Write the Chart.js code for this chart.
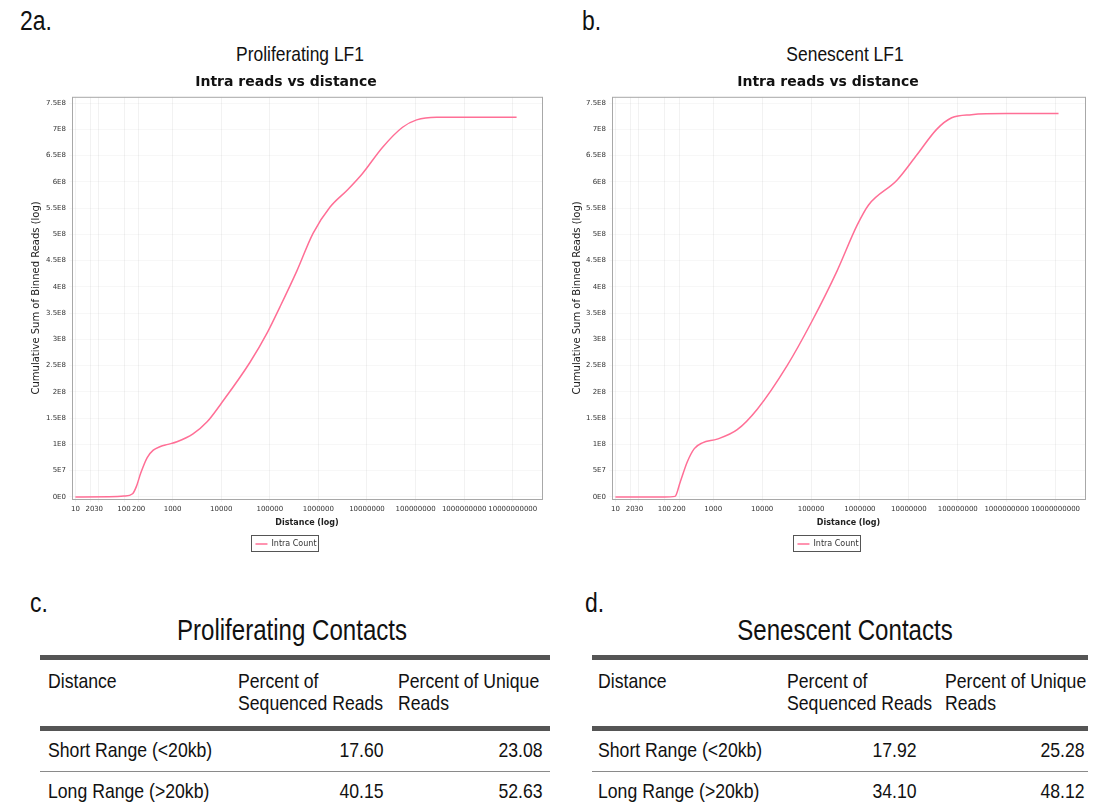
<!DOCTYPE html>
<html>
<head>
<meta charset="utf-8">
<script src="https://cdn.jsdelivr.net/npm/chart.js@4.4.0/dist/chart.umd.min.js"></script>
<style>
  body { margin: 0; background: #fff; width: 1097px; height: 810px; position: relative; overflow: hidden;
         font-family: 'Liberation Sans', Arial, sans-serif; color: #111; }
  .abs { position: absolute; white-space: nowrap; }
  .panel { font-size: 27px; transform: scaleX(0.85); transform-origin: 0 0; }
  .sup { font-size: 21px; transform: translateX(-50%) scaleX(0.83); }
  .ttl { font-size: 29px; transform: translateX(-50%) scaleX(0.83); }
  canvas { position: absolute; }
  table { position: absolute; border-collapse: collapse; font-size: 21px; table-layout: fixed; }
  th, td { white-space: nowrap; padding: 0; overflow: visible; }
  th { font-weight: normal; text-align: left; vertical-align: top; line-height: 22px; height: 44px; padding-top: 10px; padding-bottom: 12px; }
  thead tr { border-top: 5px solid #555; border-bottom: 5px solid #555; }
  td { height: 37px; vertical-align: middle; padding-bottom: 3px; }
  tbody tr { border-bottom: 1.5px solid #8a8a8a; }
  td.num { text-align: right; }
  .n { display: inline-block; transform: scaleX(0.84); transform-origin: 0 0; }
  td.num .n { transform-origin: 100% 0; }
</style>
</head>
<body>
<div class="abs panel" style="left:20px;top:6px;">2a.</div>
<div class="abs panel" style="left:582px;top:6px;">b.</div>
<div class="abs sup" style="left:300px;top:42px;">Proliferating LF1</div>
<div class="abs sup" style="left:845px;top:42px;">Senescent LF1</div>
<canvas id="chartA" width="560" height="504" style="left:0;top:60px;"></canvas>
<canvas id="chartB" width="557" height="504" style="left:540px;top:60px;"></canvas>

<div class="abs panel" style="left:30px;top:588px;">c.</div>
<div class="abs panel" style="left:585px;top:588px;">d.</div>
<div class="abs ttl" style="left:292px;top:614px;">Proliferating Contacts</div>
<div class="abs ttl" style="left:845px;top:614px;">Senescent Contacts</div>
<table id="tableA" style="left:40px;top:655px;width:510px;"></table>
<table id="tableB" style="left:592px;top:655px;width:496px;"></table>

<script>
// x axis ticks (distance, log) and y ticks
var xTicks = [10, 20, 30, 100, 200, 1e3, 1e4, 1e5, 1e6, 1e7, 1e8, 1e9, 1e10];
var yTicks = [0, 5e7, 1e8, 1.5e8, 2e8, 2.5e8, 3e8, 3.5e8, 4e8, 4.5e8, 5e8, 5.5e8, 6e8, 6.5e8, 7e8, 7.5e8];

// Proliferating LF1 - cumulative intra reads
var proDist  = [10, 50, 100, 150, 180, 220, 300, 400, 560, 800, 1230, 2630, 5130, 10000, 38900, 90000, 162000, 363000, 776000, 1.74e6, 4e6, 8.1e6, 2.1e7, 5.4e7, 1.05e8, 2.7e8, 1e9, 1.2e10];
var proReads = [0, 0.3e6, 1.5e6, 6e6, 2e7, 4.5e7, 7.5e7, 8.9e7, 9.6e7, 1.0e8, 1.05e8, 1.2e8, 1.43e8, 1.78e8, 2.56e8, 3.14e8, 3.62e8, 4.31e8, 5.02e8, 5.52e8, 5.85e8, 6.16e8, 6.66e8, 7.04e8, 7.18e8, 7.23e8, 7.23e8, 7.23e8];

// Senescent LF1 - cumulative intra reads
var senDist  = [10, 100, 165, 212, 295, 410, 600, 1200, 3090, 7940, 32400, 105000, 339000, 871000, 1.5e6, 5.7e6, 1.45e7, 3.7e7, 7.5e7, 1.9e8, 1e9, 1.15e10];
var senReads = [0, 0, 1e6, 2.9e7, 6.7e7, 9.2e7, 1.03e8, 1.1e8, 1.28e8, 1.67e8, 2.5e8, 3.35e8, 4.3e8, 5.17e8, 5.56e8, 6.03e8, 6.51e8, 7.0e8, 7.22e8, 7.28e8, 7.3e8, 7.3e8];

// contact tables
var tableHeader = ['Distance', 'Percent of<br>Sequenced Reads', 'Percent of Unique<br>Reads'];
var rangeLabels = ['Short Range (&lt;20kb)', 'Long Range (&gt;20kb)'];
var proSeqPct = ['17.60', '40.15'];
var proUniqPct = ['23.08', '52.63'];
var senSeqPct = ['17.92', '34.10'];
var senUniqPct = ['25.28', '48.12'];

function fmtE(v) {
    if (v === 0) return '0E0';
    var e = Math.floor(Math.log10(v) + 1e-9);
    var m = Math.round(v / Math.pow(10, e) * 10) / 10;
    return m + 'E' + e;
}

var frame = {
    id: 'frame',
    afterDraw: function (chart) {
        var ctx = chart.ctx, a = chart.chartArea;
        ctx.save();
        ctx.strokeStyle = '#a8a8a8';
        ctx.lineWidth = 1;
        ctx.strokeRect(a.left + 0.5, a.top + 0.5, a.right - a.left, a.bottom - a.top);
        var hb = chart.legend.legendHitBoxes[0];
        if (hb) {
            ctx.strokeStyle = '#555';
            ctx.strokeRect(Math.round(hb.left) - 3.5, Math.round(hb.top) - 4.5, Math.round(hb.width) + 6, Math.round(hb.height) + 8);
        }
        ctx.restore();
    }
};

function makeChart(id, dist, reads, pad, axisW) {
    var pts = dist.map(function (d, i) { return {x: d, y: reads[i]}; });
    return new Chart(document.getElementById(id), {
        type: 'line',
        data: {
            datasets: [{
                label: 'Intra Count',
                data: pts,
                borderColor: '#ff6f96',
                backgroundColor: '#ff6f96',
                borderWidth: 1.5,
                pointRadius: 0,
                cubicInterpolationMode: 'monotone'
            }]
        },
        options: {
            responsive: false,
            animation: false,
            layout: {padding: pad},
            plugins: {
                title: {
                    display: true,
                    text: 'Intra reads vs distance',
                    color: '#111',
                    font: {family: 'DejaVu Sans', size: 14, weight: 'bold'},
                    padding: {top: 14, bottom: 6}
                },
                legend: {
                    position: 'bottom',
                    labels: {
                        usePointStyle: true,
                        pointStyle: 'line',
                        pointStyleWidth: 12,
                        color: '#333',
                        font: {family: 'DejaVu Sans', size: 8},
                        padding: 10
                    }
                },
                tooltip: {enabled: false}
            },
            scales: {
                x: {
                    type: 'logarithmic',
                    min: 8.5,
                    max: 4e10,
                    afterBuildTicks: function (s) { s.ticks = xTicks.map(function (v) { return {value: v}; }); },
                    ticks: {
                        autoSkip: false, maxRotation: 0, color: '#333', padding: 3,
                        font: {family: 'DejaVu Sans', size: 7},
                        callback: function (v) { return String(v); }
                    },
                    grid: {color: 'rgba(0,0,0,0.05)', tickLength: 3},
                    border: {display: false},
                    title: {display: true, text: 'Distance (log)', color: '#222', padding: {top: 2, bottom: 2},
                            font: {family: 'DejaVu Sans', size: 8, weight: 'bold'}}
                },
                y: {
                    min: -4e6,
                    max: 7.62e8,
                    afterFit: function (s) { s.width = axisW; },
                    afterBuildTicks: function (s) { s.ticks = yTicks.map(function (v) { return {value: v}; }); },
                    ticks: {
                        color: '#333', padding: 3,
                        font: {family: 'DejaVu Sans', size: 7},
                        callback: function (v) { return fmtE(v); }
                    },
                    grid: {color: 'rgba(0,0,0,0.03)', tickLength: 3},
                    border: {display: false},
                    title: {display: true, text: 'Cumulative Sum of Binned Reads (log)', color: '#222', padding: {top: 0, bottom: 0},
                            font: {family: 'DejaVu Sans', size: 10}}
                }
            }
        },
        plugins: [frame]
    });
}

makeChart('chartA', proDist, proReads, {left: 30, right: 18, top: 0, bottom: 6}, 42);
makeChart('chartB', senDist, senReads, {left: 31, right: 12, top: 0, bottom: 6}, 41);

function fillTable(id, seq, uniq, cols) {
    var html = '<colgroup>';
    cols.w.forEach(function (w) { html += '<col style="width:' + w + 'px">'; });
    html += '</colgroup><thead><tr>';
    tableHeader.forEach(function (h, i) {
        html += '<th style="padding-left:' + cols.h[i] + 'px"><span class="n">' + h + '</span></th>';
    });
    html += '</tr></thead><tbody>';
    rangeLabels.forEach(function (r, i) {
        html += '<tr><td style="padding-left:' + cols.h[0] + 'px"><span class="n">' + r + '</span></td>' +
                '<td class="num" style="padding-right:' + cols.r[0] + 'px"><span class="n">' + seq[i] + '</span></td>' +
                '<td class="num" style="padding-right:' + cols.r[1] + 'px"><span class="n">' + uniq[i] + '</span></td></tr>';
    });
    html += '</tbody>';
    document.getElementById(id).innerHTML = html;
}
fillTable('tableA', proSeqPct, proUniqPct, {w: [190, 160, 160], h: [8, 8, 8], r: [6, 7]});
fillTable('tableB', senSeqPct, senUniqPct, {w: [188, 150, 158], h: [6, 7, 15], r: [13, 3]});
</script>
</body>
</html>
